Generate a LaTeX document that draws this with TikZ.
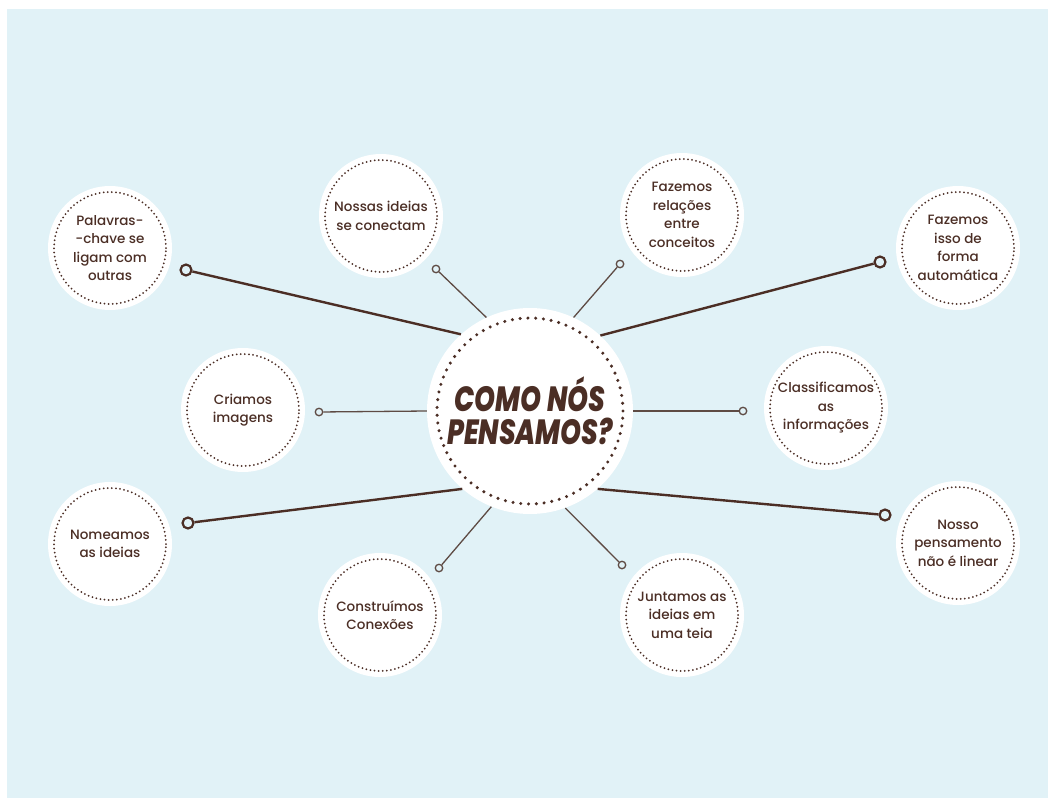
\documentclass[tikz,border=0pt]{standalone}
\usepackage{fontspec}
\setmainfont{Poppins}
\newfontface\bubbleface{Poppins Medium}
\newfontface\hubface{Poppins ExtraBold Italic}
\usepackage{tikz}
\definecolor{skyback}{HTML}{E1F2F7}
\definecolor{cocoa}{HTML}{4B2E25}
\definecolor{twig}{HTML}{5E4B44}
\newcommand{\bubblesize}{124pt}
\newcommand{\hubsize}{206pt}
\newcommand{\squeeze}[1]{\scalebox{0.76}[1]{#1}}
\tikzstyle{bubble}=[circle, fill=white, inner sep=0, minimum size=\bubblesize, text=cocoa, align=center,
                    font=\bubbleface\fontsize{13.5}{18.5}\selectfont,
                    % dotted ring inside every bubble
                    path picture={\draw[cocoa, line width=2pt, line cap=round, dash pattern=on 0pt off 4.1pt]
                                  (path picture bounding box.center) circle (56pt);}]
\tikzstyle{hub}=[circle, fill=white, inner sep=0, minimum size=\hubsize, text=cocoa, align=center,
                 font=\hubface\fontsize{35}{33}\selectfont,
                 path picture={\draw[cocoa, line width=3.4pt, line cap=round, dash pattern=on 0pt off 7.8pt]
                               (path picture bounding box.center) circle (93pt);}]
\tikzstyle{bigring}=[circle, draw=cocoa, line width=2.2pt, fill=skyback, inner sep=0, minimum size=11pt]
\tikzstyle{smallring}=[circle, draw=twig, line width=1.3pt, fill=skyback, inner sep=0, minimum size=7.5pt]
\tikzstyle{thickline}=[cocoa, line width=2.4pt]
\tikzstyle{thinline}=[twig, line width=1.3pt]

\begin{document}
\begin{tikzpicture}[x=1pt, y=-1pt]
    % page and backdrop
    \fill[white] (0, 0) rectangle (1053, 798);
    \fill[skyback] (7, 9) rectangle (1048, 798);
    \useasboundingbox (0, 0) rectangle (1053, 798);

    \node[hub]    (hub) at (530, 411) {\squeeze{COMO NÓS}\\\squeeze{PENSAMOS?}};

    \node[bubble] (palavras)  at (110, 248) {Palavras-\\-chave se\\ligam com\\outras};
    \node[bubble] (nossas)    at (381, 216) {Nossas ideias\\se conectam};
    \node[bubble] (relacoes)  at (682, 215) {Fazemos\\relações\\entre\\conceitos};
    \node[bubble] (automatica) at (958, 248) {Fazemos\\isso de\\forma\\automática};
    \node[bubble] (criamos)   at (243, 410) {Criamos\\imagens};
    \node[bubble] (classif)   at (826, 408) {Classificamos\\as\\informações};
    \node[bubble] (nomeamos)  at (110, 544) {Nomeamos\\as ideias};
    \node[bubble] (construimos) at (380, 615) {Construímos\\Conexões};
    \node[bubble] (juntamos)  at (682, 615) {Juntamos as\\ideias em\\uma teia};
    \node[bubble] (linear)    at (958, 543) {Nosso\\pensamento\\não é linear};

    \node[bigring]   (palavrasdot)    at (186, 270) {};
    \node[smallring] (nossasdot)      at (436, 269) {};
    \node[smallring] (relacoesdot)    at (620, 264) {};
    \node[bigring]   (automaticadot)  at (880, 262) {};
    \node[smallring] (criamosdot)     at (319, 412) {};
    \node[smallring] (classifdot)     at (743, 411) {};
    \node[bigring]   (nomeamosdot)    at (188, 523) {};
    \node[smallring] (construimosdot) at (439, 568) {};
    \node[smallring] (juntamosdot)    at (622, 565) {};
    \node[bigring]   (lineardot)      at (885, 515) {};

    \draw[thickline] (hub.132) -- (palavrasdot);
    \draw[thinline]  (hub.115) -- (nossasdot);
    \draw[thinline]  (hub.65)  -- (relacoesdot);
    \draw[thickline] (hub.47)  -- (automaticadot);
    \draw[thinline]  (hub.west) -- (criamosdot);
    \draw[thinline]  (hub.east) -- (classifdot);
    \draw[thickline] (hub.229) -- (nomeamosdot);
    \draw[thinline]  (hub.248) -- (construimosdot);
    \draw[thinline]  (hub.290) -- (juntamosdot);
    \draw[thickline] (hub.311) -- (lineardot);
\end{tikzpicture}
\end{document}
